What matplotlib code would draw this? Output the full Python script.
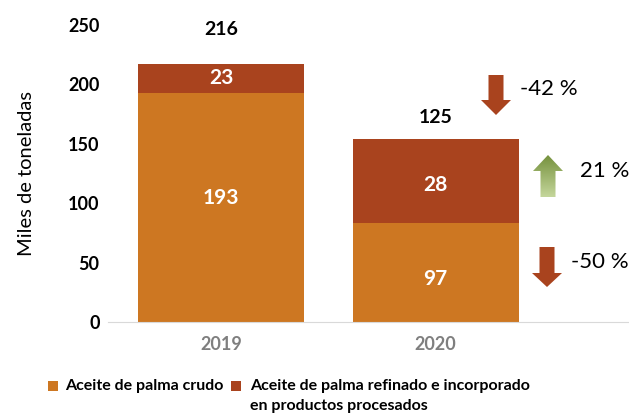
import numpy as np
import matplotlib
matplotlib.use("Agg")
import matplotlib.pyplot as plt
from matplotlib.patches import Polygon, Rectangle

plt.rcParams['font.family'] = ['Lato', 'DejaVu Sans']

# datos (alturas de barra, etiquetas tal como aparecen)
anios = ["2019", "2020"]
crudo = [193, 83]
refinado = [24, 71]
etiq_crudo = ["193", "97"]
etiq_refinado = ["23", "28"]
etiq_total = ["216", "125"]
variaciones = ["-42 %", "21 %", "-50 %"]
series = ["Aceite de palma crudo",
          "Aceite de palma refinado e incorporado",
          "en productos procesados"]

C_CRUDO = "#CD7722"
C_REF = "#A9431E"

W, H = 629, 418
fig = plt.figure(figsize=(W / 100, H / 100), dpi=100)
ax = fig.add_axes([108 / W, 1 - 322 / H, 1 - 108 / W, (322 - 25) / H])

x = np.arange(len(anios))
ancho = 0.774
ax.bar(x, crudo, ancho, color=C_CRUDO)
ax.bar(x, refinado, ancho, bottom=crudo, color=C_REF)

for i in range(len(anios)):
    ax.text(x[i], crudo[i] / 2 + (8 if i == 0 else -5), etiq_crudo[i], ha="center", va="center",
            color="white", fontsize=15, fontweight="bold")
    ax.text(x[i], crudo[i] + refinado[i] / 2 + (0 if i == 0 else -3), etiq_refinado[i],
            ha="center", va="center", color="white", fontsize=15, fontweight="bold")
ax.text(x[0], 246, etiq_total[0], ha="center", va="center", fontsize=14, fontweight="bold")
ax.text(x[1], 172, etiq_total[1], ha="center", va="center", fontsize=14, fontweight="bold")

ax.set_xlim(-0.527, 1.902)
ax.set_ylim(0, 250)
ax.set_yticks(range(0, 251, 50))
ax.set_xticks(x)
ax.set_xticklabels(anios, color="#7F7F7F", fontweight="bold", fontsize=13)
ax.tick_params(axis="y", length=0, labelsize=13, pad=6)
ax.tick_params(axis="x", length=0, pad=10)
for lbl in ax.get_yticklabels():
    lbl.set_fontweight("bold")
for s in ["top", "right", "left"]:
    ax.spines[s].set_visible(False)
ax.spines["bottom"].set_color("#D9D9D9")
ax.set_ylabel("Miles de toneladas", fontsize=14.5)
ax.yaxis.set_label_coords(-0.14, 0.5)

# capa en pixeles para flechas y leyenda
ov = fig.add_axes([0, 0, 1, 1])
ov.set_xlim(0, W)
ov.set_ylim(H, 0)
ov.axis("off")


def flecha(cx, y0, y1, yh, color=None, grad=None):
    # y0 = extremo del tallo, y1 = punta, yh = base de la cabeza
    sw, hw = 7.5, 15
    pts = [(cx - sw, y0), (cx + sw, y0), (cx + sw, yh), (cx + hw, yh),
           (cx, y1), (cx - hw, yh), (cx - sw, yh)]
    if grad is None:
        ov.add_patch(Polygon(pts, closed=True, color=color, lw=0))
    else:
        poly = Polygon(pts, closed=True, facecolor="none", lw=0)
        ov.add_patch(poly)
        top, bot = grad
        g = np.linspace(0, 1, 64)[:, None, None]
        img = (1 - g) * np.array(top)[None, None, :] + g * np.array(bot)[None, None, :]
        im = ov.imshow(img, extent=[cx - hw, cx + hw, max(y0, y1), min(y0, y1)],
                       aspect="auto", zorder=2)
        im.set_clip_path(poly)


flecha(496, 75, 115, 100, color=C_REF)
flecha(548, 197, 155, 171, grad=((0.46, 0.57, 0.24), (0.77, 0.84, 0.61)))
flecha(547, 247, 287, 273, color=C_REF)

ov.text(520, 89, variaciones[0], ha="left", va="center", fontsize=16)
ov.text(580, 171, variaciones[1], ha="left", va="center", fontsize=16)
ov.text(571, 262, variaciones[2], ha="left", va="center", fontsize=16)

# leyenda
ov.add_patch(Rectangle((48, 381), 10, 10, color=C_CRUDO, lw=0))
ov.add_patch(Rectangle((231, 381), 10, 10, color=C_REF, lw=0))
ov.text(65, 386, series[0], ha="left", va="center", fontsize=11.5, fontweight="bold")
ov.text(250, 386, series[1], ha="left", va="center", fontsize=11.5, fontweight="bold")
ov.text(250, 406, series[2], ha="left", va="center", fontsize=11.5, fontweight="bold")

fig.savefig("out.png", dpi=100)
